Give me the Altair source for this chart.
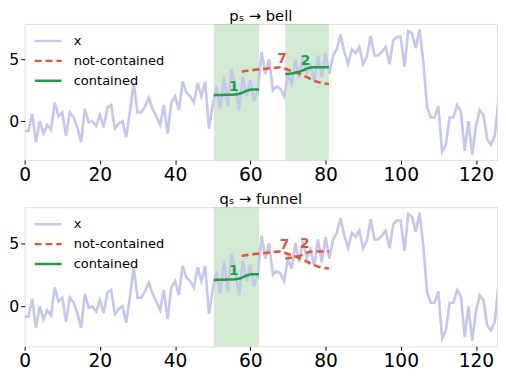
import altair as alt
import pandas as pd

FONT = "DejaVu Sans"

# observed series x (index 0..126)
t_x = list(range(127))
x_vals = [-0.8, -0.8, 0.6, -1.7, 0.0, -1.0, -0.3, -0.7, 1.5, 0.4,
          0.7, -1.2, 0.7, 0.3, -0.5, -1.7, 1.0, -0.1, 0.0, -0.4,
          0.5, -0.5, 1.1, 1.3, -0.6, -0.2, 0.0, -1.3, 0.8, 3.1,
          0.7, 0.7, 1.2, 1.9, 1.0, 0.4, -0.3, 1.3, -1.0, 1.5,
          2.0, 0.9, 3.2, 2.3, 2.0, 1.5, 3.1, 2.0, 3.2, -0.6,
          1.3, 2.8, 1.0, 3.6, 1.2, 4.2, 2.8, 0.9, 3.6, 2.0,
          3.3, 1.6, 2.5, 5.6, 3.8, 5.0, 2.5, 2.8, 2.6, 2.0,
          3.8, 3.0, 5.0, 3.5, 5.2, 3.8, 4.5, 3.2, 5.3, 3.5,
          5.5, 3.8, 5.3, 5.8, 7.0, 5.6, 4.6, 5.8, 5.5, 6.0,
          4.6, 5.2, 6.9, 5.3, 5.3, 5.6, 6.0, 4.6, 6.5, 6.8,
          6.8, 4.4, 7.3, 7.1, 5.9, 7.4, 4.8, 1.1, 0.3, 0.3,
          1.2, -2.5, -1.9, 0.3, 0.3, 1.3, 0.8, -2.4, 0.0, -2.7,
          -0.4, 0.9, 0.5, -1.5, -1.9, -1.2, 1.8]

# shaded intervals
bands_top_start = [50.3, 69.3]
bands_top_end = [62.3, 80.9]
bands_bot_start = [50.3]
bands_bot_end = [62.3]

# curve 1 (contained in both panels)
c1_t = [50.3, 53.0, 56.0, 57.5, 59.0, 60.5, 62.3]
c1_v = [2.10, 2.12, 2.15, 2.25, 2.45, 2.55, 2.55]
# curve 7 (not contained in both panels)
c7_t = [57.7, 60.0, 63.0, 66.0, 68.0, 70.0, 72.0, 74.0, 76.0, 78.0, 80.9]
c7_v = [4.00, 4.10, 4.20, 4.30, 4.35, 4.15, 3.95, 3.70, 3.40, 3.15, 3.00]
# curve 2 (contained on top, not contained on bottom)
c2_t = [69.3, 71.0, 72.5, 74.0, 75.5, 77.0, 80.9]
c2_v = [3.80, 3.85, 3.95, 4.10, 4.30, 4.35, 4.35]

# curve labels
lab_top_text = ["1", "7", "2"]
lab_top_t = [55.6, 68.4, 74.7]
lab_top_v = [2.77, 5.05, 4.85]
lab_top_kind = ["contained", "not-contained", "contained"]
lab_bot_text = ["1", "7", "2"]
lab_bot_t = [55.6, 69.1, 74.5]
lab_bot_v = [2.77, 4.87, 4.92]
lab_bot_kind = ["contained", "not-contained", "not-contained"]

series_domain = ["x", "not-contained", "contained"]
series_colors = ["#c5c8ec", "#e2553a", "#1f9d48"]
series_dash = [[1, 0], [7, 4], [1, 0]]

X_DOMAIN = [0, 125.6]
Y_DOMAIN = [-3.15, 7.85]


def curve_df(ts, vs, kind, seg):
    return pd.DataFrame({"t": ts, "v": vs, "series": kind, "seg": seg})


def panel(title, bs, be, curves, lt, lv, ltext, lkind, h):
    xdf = pd.DataFrame({"t": t_x, "v": x_vals, "series": "x", "seg": "x"})
    cdf = pd.concat(curves, ignore_index=True)
    bdf = pd.DataFrame({"s": bs, "e": be})
    ldf = pd.DataFrame({"t": lt, "v": lv, "label": ltext, "kind": lkind})

    xs = alt.X("t:Q", scale=alt.Scale(domain=X_DOMAIN, nice=False, zero=False),
               axis=alt.Axis(values=[0, 20, 40, 60, 80, 100, 120], title=None,
                             grid=False, domain=False, tickColor="black",
                             tickSize=4, labelFontSize=19, labelColor="black",
                             labelFont=FONT, labelPadding=2, labelFlush=False))
    ys = alt.Y("v:Q", scale=alt.Scale(domain=Y_DOMAIN, nice=False, zero=False),
               axis=alt.Axis(values=[0, 5], title=None, grid=False, domain=False,
                             tickColor="black", tickSize=4, labelFontSize=16,
                             labelColor="black", labelFont=FONT, labelPadding=2,
                             minExtent=16, maxExtent=16))
    color = alt.Color("series:N",
                      scale=alt.Scale(domain=series_domain, range=series_colors),
                      legend=alt.Legend(title=None, orient="none", legendX=13,
                                        legendY=6.5, labelFontSize=13.3,
                                        labelFont=FONT, labelColor="black",
                                        symbolType="M-1.4,0L1.4,0",
                                        symbolSize=380, symbolStrokeWidth=2.5,
                                        labelOffset=15, rowPadding=2.2,
                                        padding=0))
    dash = alt.StrokeDash("series:N",
                          scale=alt.Scale(domain=series_domain, range=series_dash),
                          legend=alt.Legend(title=None, orient="none", legendX=13,
                                            legendY=6.5))

    bands = alt.Chart(bdf).mark_rect(color="#2ca02c", opacity=0.22).encode(
        x=alt.X("s:Q", scale=alt.Scale(domain=X_DOMAIN, nice=False, zero=False)),
        x2="e:Q")
    xline = alt.Chart(xdf).mark_line(strokeWidth=2.7, clip=True).encode(
        x=xs, y=ys, color=color, strokeDash=dash, detail="seg:N")
    clines = alt.Chart(cdf).mark_line(strokeWidth=2.6, interpolate="monotone").encode(
        x=alt.X("t:Q"), y=alt.Y("v:Q"), color=color, strokeDash=dash, detail="seg:N")
    tg = alt.Chart(ldf).transform_filter(alt.datum.kind == "contained").mark_text(
        fontSize=14, fontWeight="bold", font=FONT, color="#1f9d48").encode(
        x="t:Q", y="v:Q", text="label:N")
    tr = alt.Chart(ldf).transform_filter(alt.datum.kind == "not-contained").mark_text(
        fontSize=14, fontWeight="bold", font=FONT, color="#e2553a").encode(
        x="t:Q", y="v:Q", text="label:N")
    return alt.layer(bands, xline, clines, tg, tr).properties(
        width=482, height=h,
        title=alt.TitleParams(title, fontSize=15, font=FONT, fontWeight="normal",
                              color="black", offset=0))


top = panel("pₛ → bell", bands_top_start, bands_top_end,
            [curve_df(c1_t, c1_v, "contained", "c1"),
             curve_df(c7_t, c7_v, "not-contained", "c7"),
             curve_df(c2_t, c2_v, "contained", "c2")],
            lab_top_t, lab_top_v, lab_top_text, lab_top_kind, 139)
bot = panel("qₛ → funnel", bands_bot_start, bands_bot_end,
            [curve_df(c1_t, c1_v, "contained", "c1"),
             curve_df(c7_t, c7_v, "not-contained", "c7"),
             curve_df(c2_t, c2_v, "not-contained", "c2")],
            lab_bot_t, lab_bot_v, lab_bot_text, lab_bot_kind, 142)

chart = alt.vconcat(top, bot, spacing=6).resolve_legend(
    color="independent", strokeDash="independent").properties(
    padding={"left": 0, "right": 0, "top": -3.5, "bottom": 0}).configure_view(
    stroke="black", strokeWidth=1).configure(background="white")

chart.save("out.html", embed_options={"renderer": "svg", "actions": False})
